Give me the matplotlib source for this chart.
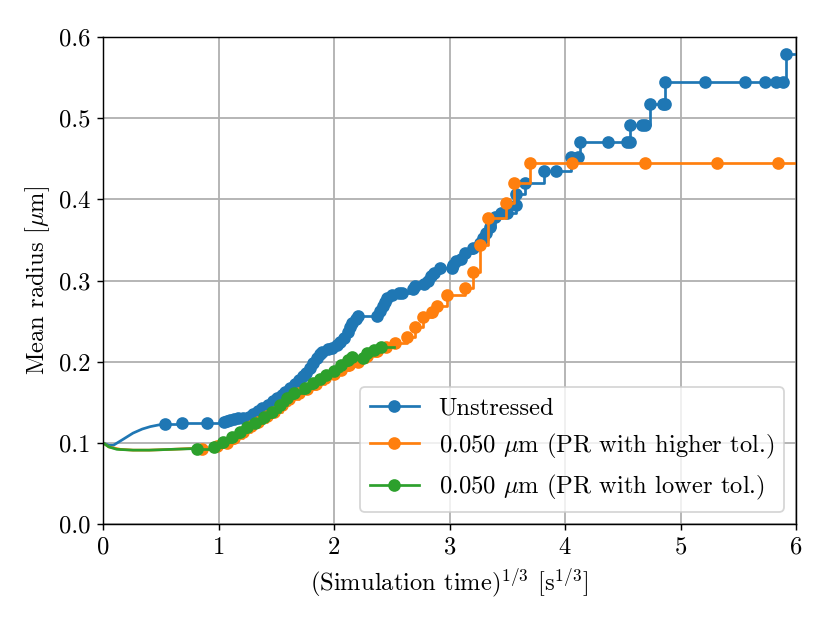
import matplotlib
matplotlib.use("Agg")
import matplotlib.pyplot as plt
import numpy as np

plt.rcParams["font.family"] = "serif"
plt.rcParams["font.serif"] = ["cmr10", "DejaVu Serif"]
plt.rcParams["mathtext.fontset"] = "cm"
plt.rcParams["axes.formatter.use_mathtext"] = True
plt.rcParams["font.size"] = 13.6

# Unstressed
blue_curve_x = [0.0, 0.05, 0.09, 0.17, 0.26, 0.34, 0.41, 0.48, 0.54]
blue_curve_y = [0.100, 0.097, 0.097, 0.104, 0.112, 0.117, 0.120, 0.122, 0.123]
blue_x = [0.54, 0.68, 0.90, 1.05, 1.07, 1.10, 1.13, 1.17, 1.21, 1.26, 1.30,
          1.34, 1.38, 1.43, 1.47, 1.51, 1.55, 1.58, 1.62, 1.66, 1.70, 1.73,
          1.76, 1.79, 1.82, 1.85, 1.88, 1.90, 1.95, 1.98, 2.03, 2.05, 2.09,
          2.12, 2.14, 2.16, 2.19, 2.21, 2.37, 2.40, 2.42, 2.44, 2.46, 2.50,
          2.56, 2.59, 2.68, 2.70, 2.78, 2.81, 2.84, 2.87, 2.92, 3.02, 3.03,
          3.06, 3.10, 3.13, 3.20, 3.26, 3.29, 3.32, 3.35, 3.39, 3.45, 3.50,
          3.58, 3.58, 3.65, 3.82, 3.92, 4.05, 4.11, 4.13, 4.37, 4.54, 4.56,
          4.56, 4.67, 4.69, 4.74, 4.85, 4.87, 4.87, 5.21, 5.56, 5.73, 5.83,
          5.89, 5.91]
blue_y = [0.123, 0.125, 0.125, 0.126, 0.127, 0.128, 0.129, 0.130, 0.130, 0.132, 0.135,
          0.139, 0.143, 0.147, 0.151, 0.155, 0.159, 0.163, 0.168, 0.173, 0.178, 0.182,
          0.186, 0.192, 0.198, 0.205, 0.209, 0.212, 0.215, 0.217, 0.221, 0.224, 0.229,
          0.236, 0.243, 0.248, 0.253, 0.256, 0.256, 0.262, 0.268, 0.274, 0.278, 0.282,
          0.284, 0.285, 0.289, 0.293, 0.296, 0.300, 0.305, 0.309, 0.315, 0.315, 0.319,
          0.324, 0.326, 0.334, 0.340, 0.346, 0.352, 0.358, 0.366, 0.378, 0.383, 0.383,
          0.393, 0.407, 0.420, 0.435, 0.435, 0.452, 0.452, 0.471, 0.471, 0.471, 0.471,
          0.491, 0.491, 0.491, 0.517, 0.517, 0.517, 0.545, 0.545, 0.545, 0.545, 0.545,
          0.545, 0.579]
blue_end = 6.0

# 0.050 um, PR with higher tolerance
orange_curve_x = [0.0, 0.05, 0.15, 0.26, 0.4, 0.6, 0.75, 0.86]
orange_curve_y = [0.100, 0.095, 0.092, 0.091, 0.091, 0.092, 0.093, 0.093]
orange_x = [0.86, 0.99, 1.07, 1.13, 1.21, 1.28, 1.34, 1.42, 1.48, 1.55, 1.61,
            1.70, 1.77, 1.84, 1.92, 2.00, 2.06, 2.13, 2.21, 2.29, 2.37, 2.45,
            2.53, 2.63, 2.70, 2.77, 2.85, 2.89, 2.98, 3.13, 3.20, 3.26, 3.33,
            3.49, 3.56, 3.70, 4.06, 4.69, 5.32, 5.84]
orange_y = [0.093, 0.096, 0.100, 0.106, 0.113, 0.121, 0.126, 0.133, 0.138, 0.146, 0.154,
            0.161, 0.166, 0.173, 0.180, 0.185, 0.190, 0.196, 0.199, 0.207, 0.213, 0.218,
            0.223, 0.231, 0.243, 0.255, 0.261, 0.268, 0.282, 0.291, 0.311, 0.344, 0.377,
            0.396, 0.420, 0.445, 0.445, 0.445, 0.445, 0.445]
orange_end = 6.0

# 0.050 um, PR with lower tolerance
green_curve_x = [0.0, 0.05, 0.12, 0.26, 0.4, 0.6, 0.81]
green_curve_y = [0.100, 0.095, 0.092, 0.091, 0.091, 0.092, 0.093]
green_x = [0.81, 0.96, 1.04, 1.12, 1.19, 1.25, 1.32, 1.39, 1.46, 1.53, 1.59,
           1.65, 1.75, 1.82, 1.88, 1.93, 2.00, 2.06, 2.12, 2.16, 2.25, 2.29,
           2.35, 2.41]
green_y = [0.093, 0.095, 0.101, 0.107, 0.113, 0.120, 0.125, 0.132, 0.138, 0.147, 0.155,
           0.161, 0.167, 0.174, 0.179, 0.183, 0.188, 0.196, 0.202, 0.206, 0.205, 0.211,
           0.214, 0.218]
green_end = 2.52

series = [
    ("Unstressed", "#1f77b4", blue_curve_x, blue_curve_y, blue_x, blue_y, blue_end),
    (r"0.050 $\mu$m (PR with higher tol.)", "#ff7f0e",
     orange_curve_x, orange_curve_y, orange_x, orange_y, orange_end),
    (r"0.050 $\mu$m (PR with lower tol.)", "#2ca02c",
     green_curve_x, green_curve_y, green_x, green_y, green_end),
]

fig = plt.figure(figsize=(830 / 130, 623 / 130), dpi=130)
ax = fig.add_axes([103 / 830, 1 - 524 / 623, 693 / 830, 487 / 623])

for label, c, cx, cy, mx, my, xend in series:
    ax.plot(cx, cy, color=c, lw=1.5)
    lx = list(mx) + [xend]
    ly = list(my) + [my[-1]]
    ax.plot(lx, ly, color=c, lw=1.5, drawstyle="steps-post", marker="o",
            markersize=6, markevery=slice(0, len(mx)), label=label)

ax.set_xlim(0, 6)
ax.set_ylim(0, 0.6)
ax.set_xticks(np.arange(0, 7, 1))
ax.set_yticks(np.arange(0, 0.61, 0.1))
ax.set_yticklabels(["0.0", "0.1", "0.2", "0.3", "0.4", "0.5", "0.6"])
ax.grid(True, color="#b0b0b0", lw=1.0)
ax.set_axisbelow(True)
ax.set_xlabel(r"(Simulation time)$^{1/3}$ [s$^{1/3}$]")
ax.set_ylabel(r"Mean radius [$\mu$m]")
ax.legend(loc="lower right")

fig.savefig("out.png", dpi=130)
